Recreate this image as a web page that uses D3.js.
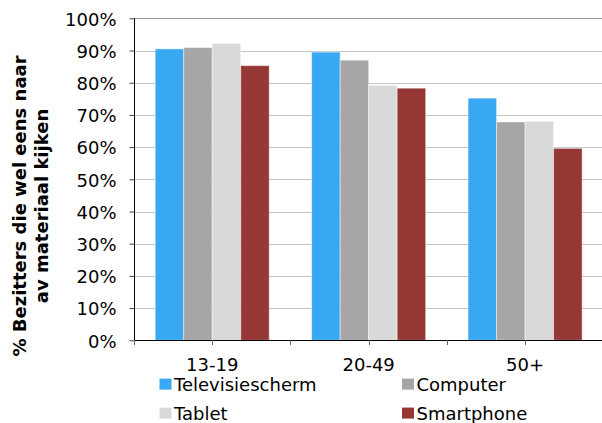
<!DOCTYPE html>
<html>
<head>
<meta charset="utf-8">
<script src="https://cdn.jsdelivr.net/npm/d3@7"></script>
<style>
  html, body { margin: 0; padding: 0; background: #fff; }
  svg { display: block; }
  text { font-family: "DejaVu Sans", Verdana, sans-serif; fill: #000; }
</style>
</head>
<body>
<svg id="chart" width="602" height="423"></svg>
<script>
// Age groups along the x axis
const categories = ["13-19", "20-49", "50+"];

// Share of owners who sometimes watch material on each device (fraction)
const televisiescherm = [0.905, 0.895, 0.752];
const computer        = [0.909, 0.870, 0.678];
const tablet          = [0.922, 0.792, 0.680];
const smartphone      = [0.853, 0.783, 0.596];

const seriesNames  = ["Televisiescherm", "Computer", "Tablet", "Smartphone"];
const seriesValues = [televisiescherm, computer, tablet, smartphone];
const seriesColors = ["#38A8F2", "#A6A6A6", "#D9D9D9", "#953735"];

const yTicks = d3.range(0, 1.0001, 0.1);
const titleLines = ["% Bezitters die wel eens naar", "av materiaal kijken"];

const svg = d3.select("#chart");

const plot = { left: 134, top: 18.3, bottom: 340.3, right: 603.3 };

const x = d3.scaleBand()
  .domain(categories)
  .range([plot.left, plot.right])
  .paddingInner(0.271)
  .paddingOuter(0.1355);

const xSeries = d3.scaleBand()
  .domain(seriesNames)
  .range([0, x.bandwidth()])
  .padding(0);

const y = d3.scaleLinear().domain([0, 1]).range([plot.bottom, plot.top]);

// Horizontal gridlines
svg.append("g")
  .selectAll("line")
  .data(yTicks.filter(t => t > 0))
  .join("line")
  .attr("x1", plot.left)
  .attr("x2", 602)
  .attr("y1", d => Math.round(y(d)) + 0.5)
  .attr("y2", d => Math.round(y(d)) + 0.5)
  .attr("stroke", (d, i, a) => i === a.length - 1 ? "#9a9a9a" : "#c4c4c4")
  .attr("stroke-width", 1);

// Bars
const groups = svg.append("g")
  .selectAll("g")
  .data(categories)
  .join("g")
  .attr("transform", d => `translate(${x(d)},0)`);

groups.selectAll("rect")
  .data((c, ci) => seriesNames.map((s, si) => ({ s, si, v: seriesValues[si][ci] })))
  .join("rect")
  .attr("x", d => xSeries(d.s))
  .attr("y", d => y(d.v))
  .attr("width", xSeries.bandwidth())
  .attr("height", d => y(0) - y(d.v))
  .attr("fill", d => seriesColors[d.si])
  .attr("stroke", "rgba(255,255,255,0.45)")
  .attr("stroke-width", 1);

// Y axis
const yAxis = d3.axisLeft(y)
  .tickValues(yTicks)
  .tickSize(5)
  .tickPadding(13)
  .tickFormat(d3.format(".0%"));

const yg = svg.append("g")
  .attr("transform", `translate(${plot.left + 0.5},0)`)
  .call(yAxis);
yg.select(".domain").attr("stroke", "#000").attr("d", `M0,${plot.top}V${plot.bottom}`);
yg.selectAll(".tick line").attr("stroke", "#444");
yg.selectAll(".tick text")
  .attr("font-size", 18)
  .attr("font-family", "DejaVu Sans, Verdana, sans-serif")
  .attr("dy", "0.38em")
  .attr("fill", "#000");

// X axis: baseline with ticks at category boundaries and centres
const xg = svg.append("g");
xg.append("line")
  .attr("x1", plot.left)
  .attr("x2", 602)
  .attr("y1", Math.round(plot.bottom) + 0.5)
  .attr("y2", Math.round(plot.bottom) + 0.5)
  .attr("stroke", "#000");

const tickXs = [];
categories.forEach((c, i) => {
  const start = x(c) - x.step() * x.paddingOuter();
  tickXs.push(start, x(c) + x.bandwidth() / 2);
});
xg.selectAll("line.tick")
  .data(tickXs)
  .join("line")
  .attr("class", "tick")
  .attr("x1", d => Math.round(d) + 0.5)
  .attr("x2", d => Math.round(d) + 0.5)
  .attr("y1", Math.round(plot.bottom))
  .attr("y2", Math.round(plot.bottom) + 5)
  .attr("stroke", "#666");

xg.selectAll("text")
  .data(categories)
  .join("text")
  .attr("x", d => x(d) + x.bandwidth() / 2)
  .attr("y", 371)
  .attr("text-anchor", "middle")
  .attr("font-size", 18)
  .text(d => d);

// Y axis title
const title = svg.append("text")
  .attr("transform", "translate(26,206) rotate(-90)")
  .attr("text-anchor", "middle")
  .attr("font-size", 18)
  .attr("font-weight", "bold");
title.selectAll("tspan")
  .data(titleLines)
  .join("tspan")
  .attr("x", 0)
  .attr("dy", (d, i) => i === 0 ? 0 : 22)
  .text(d => d);

// Legend, two columns by two rows
const legendPos = [
  { x: 159.5, y: 391 },
  { x: 402,   y: 391 },
  { x: 159.5, y: 420 },
  { x: 402,   y: 420 }
];
const legend = svg.append("g")
  .selectAll("g")
  .data(seriesNames)
  .join("g")
  .attr("transform", (d, i) => `translate(${legendPos[i].x},${legendPos[i].y})`);
legend.append("rect")
  .attr("x", 0)
  .attr("y", -12.4)
  .attr("width", 12)
  .attr("height", 11)
  .attr("fill", (d, i) => seriesColors[i]);
legend.append("text")
  .attr("x", 14.5)
  .attr("y", 0)
  .attr("font-size", 18)
  .text(d => d);
</script>
</body>
</html>
